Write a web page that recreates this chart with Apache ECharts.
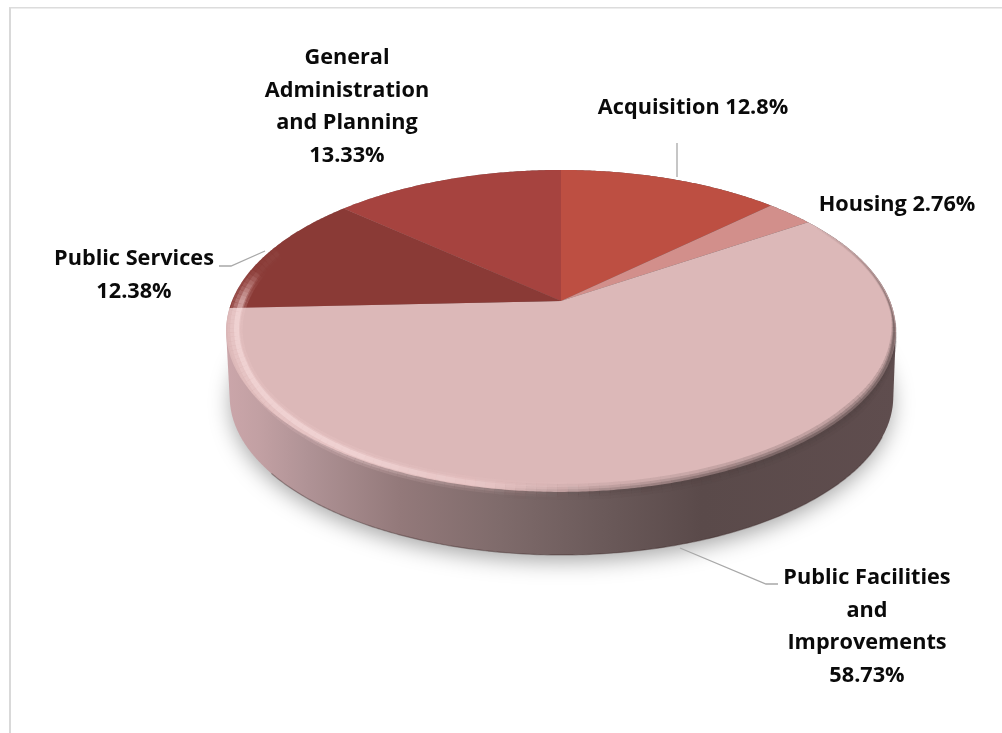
<!DOCTYPE html>
<html>
<head>
<meta charset="utf-8">
<title>Funding by category</title>
<style>html,body{margin:0;padding:0;background:#fff}#chart{width:1002px;height:733px}</style>
<script src="https://cdn.jsdelivr.net/npm/echarts@6/dist/echarts.min.js"></script>
</head>
<body>
<div id="chart"></div>
<script>
// Category shares, clockwise from twelve o'clock
const categories = ['Acquisition', 'Housing', 'Public Facilities and Improvements', 'Public Services', 'General Administration and Planning'];
const shares = [12.8, 2.76, 58.73, 12.38, 13.33];
const labelLines = [
  ['Acquisition {v}'],
  ['Housing {v}'],
  ['Public Facilities', 'and', 'Improvements', '{v}'],
  ['Public Services', '{v}'],
  ['General', 'Administration', 'and Planning', '{v}']
];

// Presentation
const sliceColors = ['#bd4f42', '#d28f8b', '#dcb8b8', '#8a3a36', '#a6433f'];
const labelAnchors = [[693, 108], [897, 205], [867, 578], [134, 259], [347, 58]];
const leaderPaths = [
  [[677, 143], [677, 177]],
  null,
  [[680, 548], [766, 584], [778, 584]],
  [[219, 266], [231, 266], [265, 251]],
  null
];
const FONT = '"Open Sans", Lato, sans-serif';
const FONT_SIZE = 21.7, LINE_STEP = 32.6;

// Perspective projection of the unit disc: slices are laid out on the disc,
// then projected so the hub sits above the centre of the visible ellipse.
const disc = { cx: 561, cy: 301, a: 329, b: 155.4, k: 0.186 };
const base = { cx: 561.5, cy: 367, a: 326, b: 153, k: 0.186 };
function project(p, deg, r) {
  const t = deg * Math.PI / 180;
  const X = r * Math.sin(t), Y = r * Math.cos(t);
  const d = 1 + p.k * Y;
  return [p.cx + p.a * X / d, p.cy - p.b * Y / d];
}
function arc(p, from, to, r) {
  const pts = [];
  const n = Math.max(2, Math.ceil(Math.abs(to - from) * 2));
  for (let i = 0; i <= n; i++) pts.push(project(p, from + (to - from) * i / n, r === undefined ? 1 : r));
  return pts;
}
function convexHull(points) {
  const pts = points.slice().sort((p, q) => p[0] - q[0] || p[1] - q[1]);
  const cross = (o, p, q) => (p[0] - o[0]) * (q[1] - o[1]) - (p[1] - o[1]) * (q[0] - o[0]);
  const sweep = (list) => {
    const out = [];
    for (const p of list) {
      while (out.length >= 2 && cross(out[out.length - 2], out[out.length - 1], p) <= 0) out.pop();
      out.push(p);
    }
    out.pop();
    return out;
  };
  return sweep(pts).concat(sweep(pts.slice().reverse()));
}
const total = shares.reduce((s, v) => s + v, 0);
function sliceSpan(idx) {
  let sum = 0;
  for (let i = 0; i < idx; i++) sum += shares[i];
  return [sum / total * 360, (sum + shares[idx]) / total * 360];
}

// Side wall shading runs left to right across the whole disc
const wallStops = [
  { offset: 0, color: '#cba6aa' },
  { offset: 0.05, color: '#c2a0a3' },
  { offset: 0.12, color: '#b09396' },
  { offset: 0.26, color: '#93797a' },
  { offset: 0.41, color: '#7f6b6b' },
  { offset: 0.56, color: '#6b5a5a' },
  { offset: 0.71, color: '#5a4a4a' },
  { offset: 1, color: '#5f4d4e' }
];

function renderGround() {
  return {
    type: 'polygon',
    shape: { points: arc(base, 0, 360, 0.995) },
    style: { fill: '#8a8a8a', shadowBlur: 22, shadowColor: 'rgba(0,0,0,0.36)', shadowOffsetY: 7 }
  };
}

function renderWall(params) {
  const [from, to] = sliceSpan(params.dataIndex);
  const x0 = disc.cx - disc.a * 1.02, x1 = disc.cx + disc.a * 1.02;
  const fill = new echarts.graphic.LinearGradient(x0, 0, x1, 0, wallStops, true);
  const children = [
    { type: 'polygon', shape: { points: convexHull(arc(disc, from, to).concat(arc(base, from, to))) }, style: { fill } }
  ];
  // Contact line under the disc, only along its front edge
  const lineFrom = Math.max(from, 115), lineTo = Math.min(to, 232);
  if (lineTo > lineFrom) {
    children.push({
      type: 'polyline',
      shape: { points: arc(base, lineFrom, lineTo) },
      style: { fill: 'none', stroke: 'rgba(60,40,40,0.4)', lineWidth: 1.2 }
    });
  }
  return { type: 'group', children };
}

function renderFace(params) {
  const [from, to] = sliceSpan(params.dataIndex);
  const points = [[disc.cx, disc.cy]].concat(arc(disc, from, to));
  return { type: 'polygon', shape: { points }, style: { fill: sliceColors[params.dataIndex] } };
}

// Soft bevel along the disc edge: pale highlight on the lit side, dark on the far side
function ramp(v, a, b) { return Math.max(0, Math.min(1, (v - a) / (b - a))); }
function litAmount(deg) { return ramp(deg, 172, 212) * (1 - ramp(deg, 270, 282) * 0.95); }
function darkAmount(deg) { return ramp(deg, 58, 100) * (1 - ramp(deg, 150, 190)); }
function darkWidth(deg) { return 0.2 + 0.8 * ramp(deg, 95, 128); }
function litRadius(deg) { return 0.99 - 0.016 * ramp(deg, 212, 248); }
function darkRadius(deg) { return 0.995 + 0.005 * ramp(deg, 105, 125); }
function renderBevel() {
  const children = [];
  const band = (amount, widthScale, radius, width, alpha, rgb) => {
    for (let d = 50; d < 290; d += 1.5) {
      const v = amount(d + 0.75) * alpha;
      if (v <= 0.003) continue;
      children.push({
        type: 'polyline',
        shape: { points: [project(disc, d, radius(d)), project(disc, d + 1.5, radius(d + 1.5))] },
        style: { fill: 'none', stroke: `rgba(${rgb},${v.toFixed(3)})`, lineWidth: width * widthScale(d + 0.75) }
      });
    }
  };
  const flat = () => 1;
  band(litAmount, flat, litRadius, 15, 0.16, '250,214,214');
  band(litAmount, flat, litRadius, 10, 0.24, '252,220,220');
  band(litAmount, flat, (d) => litRadius(d) - 0.004, 5, 0.36, '255,232,232');
  band(darkAmount, darkWidth, darkRadius, 16, 0.2, '84,68,68');
  band(darkAmount, darkWidth, darkRadius, 10, 0.3, '84,68,68');
  band(darkAmount, darkWidth, darkRadius, 5, 0.45, '84,68,68');
  return { type: 'group', children };
}

function renderLabel(params) {
  const i = params.dataIndex;
  const [x, y] = labelAnchors[i];
  const children = labelLines[i].map((line, n) => ({
    type: 'text',
    style: {
      x, y: y + n * LINE_STEP,
      text: line.replace('{v}', shares[i] + '%'),
      font: `bold ${FONT_SIZE}px ${FONT}`,
      fill: '#0a0a0a', align: 'center', verticalAlign: 'middle'
    }
  }));
  if (leaderPaths[i]) {
    children.push({
      type: 'polyline',
      shape: { points: leaderPaths[i] },
      style: { fill: 'none', stroke: '#a8a8a8', lineWidth: 1.3 }
    });
  }
  return { type: 'group', children };
}

const rows = categories.map((name, i) => ({ name, value: shares[i] }));
const layer = (z, renderItem, data) => ({
  type: 'custom', coordinateSystem: 'none', silent: true, clip: false, z, renderItem, data: data || rows
});

const chart = echarts.init(document.getElementById('chart'), null, { renderer: 'canvas' });
chart.setOption({
  animation: false,
  backgroundColor: '#ffffff',
  graphic: [
    { type: 'rect', z: 0, shape: { x: 9, y: 7, width: 2, height: 726 }, style: { fill: '#d9d9d9' } },
    { type: 'rect', z: 0, shape: { x: 9, y: 7, width: 993, height: 1.5 }, style: { fill: '#dcdcdc' } }
  ],
  series: [
    layer(1, renderGround, [{ name: 'ground', value: 1 }]),
    layer(2, renderWall),
    layer(3, renderFace),
    layer(4, renderBevel, [{ name: 'bevel', value: 1 }]),
    layer(5, renderLabel)
  ]
});
</script>
</body>
</html>
